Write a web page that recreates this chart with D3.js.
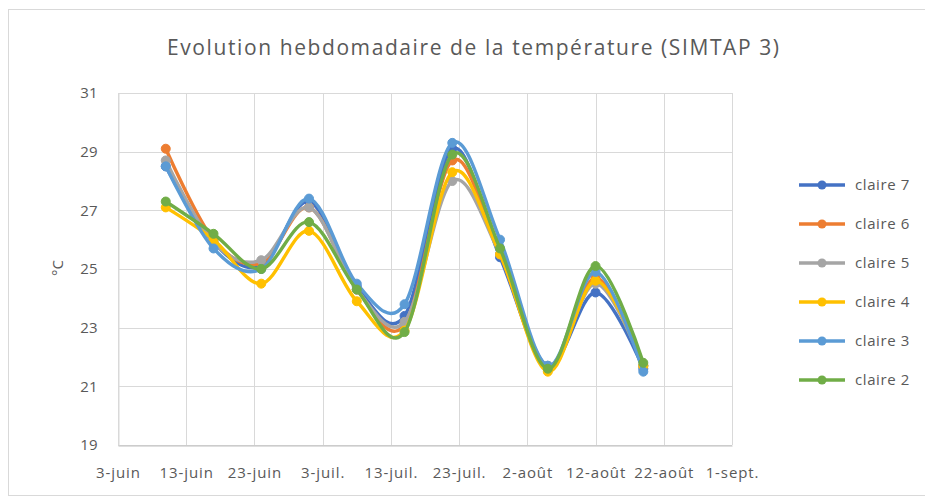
<!DOCTYPE html>
<html>
<head>
<meta charset="utf-8">
<script src="https://cdn.jsdelivr.net/npm/d3@7"></script>
<style>
  html, body { margin: 0; padding: 0; background: #ffffff; }
  svg { display: block; }
  text { font-family: "Open Sans", "Noto Sans", sans-serif; fill: #595959; }
</style>
</head>
<body>
<svg id="chart" width="925" height="498"></svg>
<script>
// Weekly sampling dates
const dates = ["2023-06-10", "2023-06-17", "2023-06-24", "2023-07-01", "2023-07-08",
               "2023-07-15", "2023-07-22", "2023-07-29", "2023-08-05", "2023-08-12", "2023-08-19"];

// Weekly mean temperature (°C) per pond
const claire7 = [28.5, 25.9, 25.1, 27.3, 24.4, 23.4, 29.1, 25.4, 21.7, 24.2, 21.6];
const claire6 = [29.1, 26.0, 25.2, 27.1, 24.3, 23.1, 28.7, 25.5, 21.6, 24.7, 21.7];
const claire5 = [28.7, 25.9, 25.3, 27.1, 24.3, 23.2, 28.0, 25.5, 21.7, 24.5, 21.7];
const claire4 = [27.1, 26.0, 24.5, 26.3, 23.9, 22.9, 28.3, 25.5, 21.5, 24.6, 21.7];
const claire3 = [28.5, 25.7, 25.0, 27.4, 24.5, 23.8, 29.3, 26.0, 21.7, 24.9, 21.5];
const claire2 = [27.3, 26.2, 25.0, 26.6, 24.3, 22.85, 28.9, 25.7, 21.6, 25.1, 21.8];

const seriesNames = ["claire 7", "claire 6", "claire 5", "claire 4", "claire 3", "claire 2"];
const seriesValues = [claire7, claire6, claire5, claire4, claire3, claire2];
const seriesColors = ["#4472C4", "#ED7D31", "#A5A5A5", "#FFC000", "#5B9BD5", "#70AD47"];

// Axis ticks
const xTickDates = ["2023-06-03", "2023-06-13", "2023-06-23", "2023-07-03", "2023-07-13",
                    "2023-07-23", "2023-08-02", "2023-08-12", "2023-08-22", "2023-09-01"];
const xTickLabels = ["3-juin", "13-juin", "23-juin", "3-juil.", "13-juil.",
                     "23-juil.", "2-août", "12-août", "22-août", "1-sept."];
const yTicks = [19, 21, 23, 25, 27, 29, 31];

const titleText = "Evolution hebdomadaire de la température (SIMTAP 3)";
const yAxisTitle = "°C";

const parse = d3.utcParse("%Y-%m-%d");
const svg = d3.select("#chart");

// Chart frame
svg.append("rect")
  .attr("x", 8.5).attr("y", 9.5)
  .attr("width", 930).attr("height", 486)
  .attr("fill", "#ffffff")
  .attr("stroke", "#d9d9d9").attr("stroke-width", 1);

const plot = { left: 118, right: 732, top: 93, bottom: 445 };

const x = d3.scaleUtc()
  .domain([parse(xTickDates[0]), parse(xTickDates[xTickDates.length - 1])])
  .range([plot.left, plot.right]);

const y = d3.scaleLinear()
  .domain([19, 31])
  .range([plot.bottom, plot.top]);

// Gridlines
const grid = svg.append("g").attr("class", "grid");
grid.selectAll("line.h").data(yTicks).join("line")
  .attr("class", "h")
  .attr("x1", plot.left).attr("x2", plot.right)
  .attr("y1", d => Math.round(y(d)) + 0.5).attr("y2", d => Math.round(y(d)) + 0.5)
  .attr("stroke", "#d9d9d9").attr("stroke-width", 1);
grid.selectAll("line.v").data(xTickDates.map(parse)).join("line")
  .attr("class", "v")
  .attr("x1", d => Math.round(x(d)) + 0.5).attr("x2", d => Math.round(x(d)) + 0.5)
  .attr("y1", plot.top).attr("y2", plot.bottom)
  .attr("stroke", "#d9d9d9").attr("stroke-width", 1);

// Axes
const xAxis = d3.axisBottom(x)
  .tickValues(xTickDates.map(parse))
  .tickFormat((d, i) => xTickLabels[i])
  .tickSize(0).tickPadding(22);
const gx = svg.append("g")
  .attr("transform", `translate(0,${Math.round(y(19)) + 0.5})`)
  .call(xAxis);
gx.select(".domain").attr("stroke", "#bfbfbf");
gx.selectAll("text").attr("font-size", 15).attr("fill", "#595959")
  .attr("letter-spacing", "0.9px")
  .attr("font-family", "'Open Sans', sans-serif");

const yAxis = d3.axisLeft(y)
  .tickValues(yTicks)
  .tickFormat(d3.format("d"))
  .tickSize(0).tickPadding(21);
const gy = svg.append("g")
  .attr("transform", `translate(${plot.left + 0.5},0)`)
  .call(yAxis);
gy.select(".domain").attr("stroke", "#d9d9d9");
gy.selectAll("text").attr("font-size", 15).attr("fill", "#595959")
  .attr("font-family", "'Open Sans', sans-serif");

// Series lines and markers (drawn in order so the last series sits on top)
const line = d3.line()
  .x(d => x(d.date))
  .y(d => y(d.value))
  .curve(d3.curveCardinal.tension(0));

seriesValues.forEach((vals, i) => {
  const pts = vals.map((v, j) => ({ date: parse(dates[j]), value: v }));
  const g = svg.append("g").attr("class", "series");
  g.append("path")
    .datum(pts)
    .attr("d", line)
    .attr("fill", "none")
    .attr("stroke", seriesColors[i])
    .attr("stroke-width", 3.4)
    .attr("stroke-linejoin", "round")
    .attr("stroke-linecap", "round");
  g.selectAll("circle").data(pts).join("circle")
    .attr("cx", d => x(d.date))
    .attr("cy", d => y(d.value))
    .attr("r", 4.5)
    .attr("fill", seriesColors[i])
    .attr("stroke", seriesColors[i])
    .attr("stroke-width", 1);
});

// Title
svg.append("text")
  .attr("x", 473).attr("y", 55)
  .attr("text-anchor", "middle")
  .attr("font-size", 21)
  .attr("textLength", 612)
  .attr("lengthAdjust", "spacing")
  .attr("fill", "#595959")
  .text(titleText);

// Y axis title
svg.append("text")
  .attr("transform", "translate(63,268) rotate(-90)")
  .attr("text-anchor", "middle")
  .attr("font-size", 15)
  .attr("fill", "#595959")
  .text(yAxisTitle);

// Legend
const legend = svg.append("g").attr("class", "legend");
seriesNames.forEach((name, i) => {
  const ly = 185 + i * 39;
  const row = legend.append("g").attr("transform", `translate(0,${ly})`);
  row.append("line")
    .attr("x1", 799).attr("x2", 845)
    .attr("y1", 0).attr("y2", 0)
    .attr("stroke", seriesColors[i]).attr("stroke-width", 3.4);
  row.append("circle")
    .attr("cx", 822).attr("cy", 0).attr("r", 4.5)
    .attr("fill", seriesColors[i]);
  row.append("text")
    .attr("x", 855).attr("y", 0)
    .attr("dy", "0.35em")
    .attr("font-size", 15)
    .attr("letter-spacing", "0.6px")
    .attr("fill", "#595959")
    .text(name);
});
</script>
</body>
</html>
